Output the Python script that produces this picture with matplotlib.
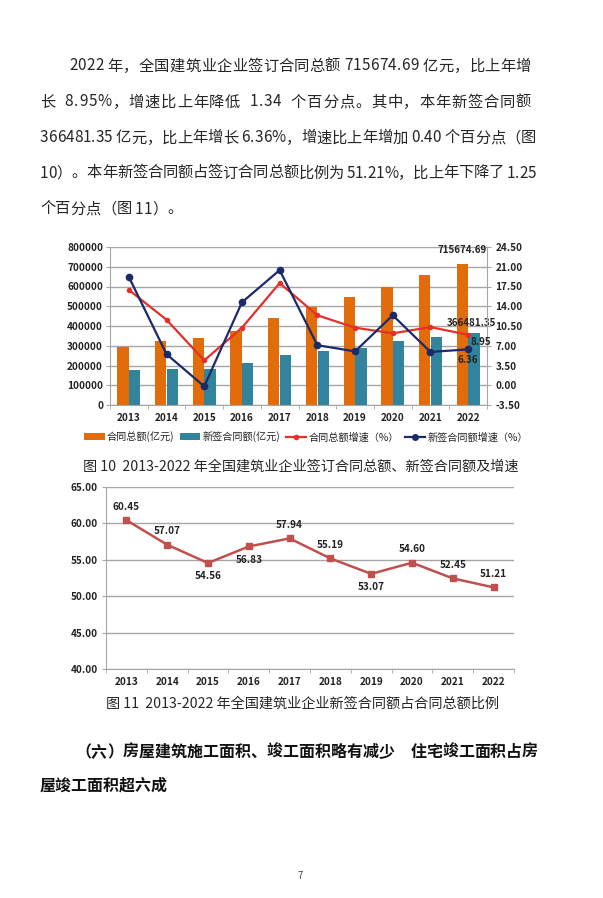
import matplotlib
matplotlib.use("Agg")
import matplotlib.pyplot as plt
from matplotlib.lines import Line2D
from matplotlib.patches import Patch
import numpy as np

plt.rcParams['font.family'] = ['Noto Sans CJK SC', 'DejaVu Sans']

# ---------------- data ----------------
years = ["2013", "2014", "2015", "2016", "2017", "2018", "2019", "2020", "2021", "2022"]
total_contract = [291300, 324500, 338000, 374300, 439500, 494400, 545000, 595600, 656900, 715674.69]
new_contract = [175000, 184000, 184500, 212800, 254700, 272900, 289200, 325200, 344600, 366481.35]
total_growth = [16.9, 11.6, 4.4, 10.2, 18.1, 12.4, 10.2, 9.2, 10.3, 8.95]
new_growth = [19.2, 5.5, -0.2, 14.7, 20.4, 7.1, 6.0, 12.4, 5.9, 6.36]
ratio = [60.45, 57.07, 54.56, 56.83, 57.94, 55.19, 53.07, 54.60, 52.45, 51.21]
ratio_label_pos = ["above", "above", "below", "below", "above", "above", "below", "above", "above", "above"]

left_ticks = [0, 100000, 200000, 300000, 400000, 500000, 600000, 700000, 800000]
right_ticks = [-3.5, 0.0, 3.5, 7.0, 10.5, 14.0, 17.5, 21.0, 24.5]
ratio_ticks = [40, 45, 50, 55, 60, 65]

legend_labels = ["合同总额(亿元)", "新签合同额(亿元)", "合同总额增速（%）", "新签合同额增速（%）"]

para_lines = [
    "2022 年，全国建筑业企业签订合同总额 715674.69 亿元，比上年增",
    "长  8.95%，增速比上年降低  1.34  个百分点。其中，本年新签合同额",
    "366481.35 亿元，比上年增长 6.36%，增速比上年增加 0.40 个百分点（图",
    "10）。本年新签合同额占签订合同总额比例为 51.21%，比上年下降了 1.25",
    "个百分点（图 11）。",
]
caption1 = "图 10  2013-2022 年全国建筑业企业签订合同总额、新签合同额及增速"
caption2 = "图 11  2013-2022 年全国建筑业企业新签合同额占合同总额比例"
heading_lines = ["（六）房屋建筑施工面积、竣工面积略有减少　住宅竣工面积占房", "屋竣工面积超六成"]

# ---------------- figure ----------------
W, H = 603, 898
fig = plt.figure(figsize=(W / 100, H / 100), dpi=100)
fig.patch.set_facecolor("white")
renderer = fig.canvas.get_renderer()

def px_axes(x0, y0, x1, y1):
    return fig.add_axes([x0 / W, 1 - y1 / H, (x1 - x0) / W, (y1 - y0) / H])

def ftext(x, y, s, **kw):
    return fig.text(x / W, 1 - y / H, s, **kw)

def justified(x0, x1, y, s, **kw):
    """Place a line of text character by character so it fills x0..x1."""
    chars = list(s)
    widths = []
    for c in chars:
        t = ftext(0, 0, c, **kw)
        widths.append(t.get_window_extent(renderer).width)
        t.remove()
    natural = sum(widths)
    gaps = max(len(chars) - 1, 1)
    extra = (x1 - x0 - natural) / gaps if x1 is not None else 0.0
    xp = x0
    for c, w in zip(chars, widths):
        if c.strip():
            ftext(xp, y, c, ha="left", va="center", **kw)
        xp += w + extra

text_color = "#262626"
# paragraph
para_x0 = [69, 40, 40, 40, 40]
para_x1 = [531, 531, 536, 536, None]
para_y = [66, 102, 138, 173, 209]
for x0, x1, y, s in zip(para_x0, para_x1, para_y, para_lines):
    justified(x0, x1, y, s, fontsize=11.0, color=text_color)

# ---------------- chart 1 ----------------
orange = "#E36C0A"
teal = "#31849B"
red = "#E3302A"
navy = "#1B2A6B"
grid_c = "#A6A6A6"

ax = px_axes(110, 247, 487, 405)
x = np.arange(len(years))
bw = 0.3
ax.bar(x - 0.155, total_contract, width=bw, color=orange, zorder=2)
ax.bar(x + 0.155, new_contract, width=bw, color=teal, zorder=2)
ax.set_xlim(-0.5, len(years) - 0.5)
ax.set_ylim(0, 800000)
ax.set_yticks(left_ticks)
ax.set_yticklabels([str(t) for t in left_ticks])
ax.yaxis.grid(True, color=grid_c, linewidth=1.0, zorder=0)
ax.set_axisbelow(True)
ax.set_xticks(x)
ax.set_xticklabels(years)
ax.set_xticks(np.arange(-0.5, len(years)), minor=True)
ax.tick_params(axis="x", which="major", length=0, pad=6)
ax.tick_params(axis="x", which="minor", length=3, color=grid_c)
ax.tick_params(axis="y", length=3, color=grid_c, pad=2)
for lab in ax.get_xticklabels() + ax.get_yticklabels():
    lab.set_fontsize(7.2)
    lab.set_fontweight("bold")
    lab.set_color("#222222")
for side in ["top", "right"]:
    ax.spines[side].set_visible(False)
ax.spines["left"].set_color(grid_c)
ax.spines["bottom"].set_color(grid_c)

ax2 = ax.twinx()
ax2.plot(x, total_growth, color=red, linewidth=1.6, marker="o", markersize=3, zorder=3)
ax2.plot(x, new_growth, color=navy, linewidth=1.6, marker="o", markersize=4.5, zorder=4)
ax2.set_ylim(-3.5, 24.5)
ax2.set_yticks(right_ticks)
ax2.set_yticklabels([f"{t:.2f}" for t in right_ticks])
ax2.tick_params(axis="y", length=3, color=grid_c, pad=3)
for lab in ax2.get_yticklabels():
    lab.set_fontsize(7.2)
    lab.set_fontweight("bold")
    lab.set_color("#222222")
for side in ["top", "left", "bottom"]:
    ax2.spines[side].set_visible(False)
ax2.spines["right"].set_color(grid_c)

# data labels on 2022
ax.annotate(f"{total_contract[-1]:.2f}", (x[-1] - 0.155, total_contract[-1]), xytext=(0, 6),
            textcoords="offset points", ha="center", va="bottom", fontsize=7, fontweight="bold", color="#222222")
ax.annotate(f"{new_contract[-1]:.2f}", (x[-1] + 0.155, new_contract[-1]), xytext=(-2, 3),
            textcoords="offset points", ha="center", va="bottom", fontsize=7, fontweight="bold", color="#222222")
ax2.annotate(f"{total_growth[-1]:.2f}", (x[-1], total_growth[-1]), xytext=(2, -5),
             textcoords="offset points", ha="left", va="center", fontsize=7, fontweight="bold", color="#222222")
ax2.annotate(f"{new_growth[-1]:.2f}", (x[-1], new_growth[-1]), xytext=(0, -4),
             textcoords="offset points", ha="center", va="top", fontsize=7, fontweight="bold", color="#222222")

# legend
handles = [
    Patch(facecolor=orange, edgecolor="none"),
    Patch(facecolor=teal, edgecolor="none"),
    Line2D([0], [0], color=red, linewidth=1.6, marker="o", markersize=3),
    Line2D([0], [0], color=navy, linewidth=1.6, marker="o", markersize=4),
]
fig.legend(handles, legend_labels, loc="center", bbox_to_anchor=(306 / W, 1 - 437 / H), ncol=4,
           frameon=False, fontsize=7.3, handlelength=2.0, handleheight=0.7, handletextpad=0.2,
           columnspacing=0.6, labelcolor="#222222")

ftext(301, 467, caption1, fontsize=10.2, ha="center", va="center", color=text_color)

# ---------------- chart 2 ----------------
line_c = "#C0504D"
bx = px_axes(106, 487, 514, 669)
bx.plot(x, ratio, color=line_c, linewidth=1.8, marker="s", markersize=4.5, zorder=3)
bx.set_xlim(-0.5, len(years) - 0.5)
bx.set_ylim(40, 65)
bx.set_yticks(ratio_ticks)
bx.set_yticklabels([f"{t:.2f}" for t in ratio_ticks])
bx.yaxis.grid(True, color=grid_c, linewidth=1.0, zorder=0)
bx.set_axisbelow(True)
bx.set_xticks(x)
bx.set_xticklabels(years)
bx.set_xticks(np.arange(-0.5, len(years)), minor=True)
bx.tick_params(axis="x", which="major", length=0, pad=6)
bx.tick_params(axis="x", which="minor", length=3, color=grid_c)
bx.tick_params(axis="y", length=3, color=grid_c, pad=3)
for lab in bx.get_xticklabels() + bx.get_yticklabels():
    lab.set_fontsize(7.2)
    lab.set_fontweight("bold")
    lab.set_color("#222222")
for side in ["top", "right"]:
    bx.spines[side].set_visible(False)
bx.spines["left"].set_color(grid_c)
bx.spines["bottom"].set_color(grid_c)
for xi, v, pos in zip(x, ratio, ratio_label_pos):
    if pos == "above":
        bx.annotate(f"{v:.2f}", (xi, v), xytext=(0, 6), textcoords="offset points",
                    ha="center", va="bottom", fontsize=7.2, fontweight="bold", color="#222222")
    else:
        bx.annotate(f"{v:.2f}", (xi, v), xytext=(0, -6), textcoords="offset points",
                    ha="center", va="top", fontsize=7.2, fontweight="bold", color="#222222")

ftext(303, 704, caption2, fontsize=10.2, ha="center", va="center", color=text_color)

# heading
justified(75, 538, 752, heading_lines[0], fontsize=11.5, fontweight="bold", color="#111111")
ftext(40, 786, heading_lines[1], fontsize=11.5, fontweight="bold", ha="left", va="center", color="#111111")

ftext(300, 876, "7", fontsize=7, ha="center", va="center", color="#444444")

fig.savefig("out.png", dpi=100, facecolor="white")
